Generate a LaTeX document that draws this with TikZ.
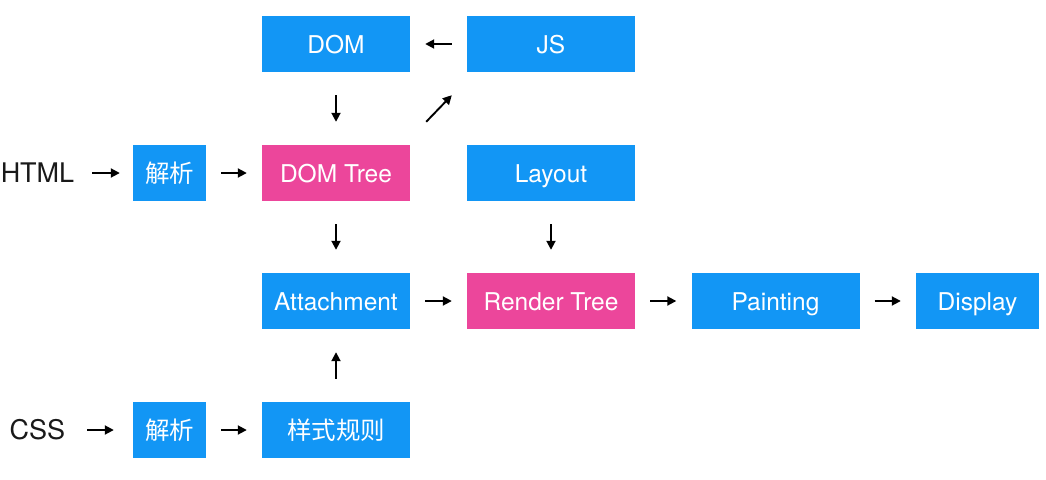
\documentclass[tikz,border=0pt]{standalone}
\usepackage{fontspec}
\setmainfont{TeX Gyre Heros}
\newfontfamily\cjk{Noto Sans CJK SC}
\usetikzlibrary{arrows.meta}
\definecolor{boxblue}{RGB}{18,150,245}
\definecolor{boxpink}{RGB}{236,70,155}
\definecolor{labelink}{RGB}{25,25,25}
\tikzset{
  box/.style={rectangle, fill=boxblue, text=white, inner sep=0pt, minimum height=56pt,
    text height=20pt, text depth=2pt, font=\fontsize{24.5}{28}\selectfont},
  pinkbox/.style={box, fill=boxpink},
  wide/.style={minimum width=148pt},
  wider/.style={minimum width=168pt},
  narrow/.style={minimum width=73pt},
  lbl/.style={inner sep=0pt, text=labelink, text height=20pt, text depth=2pt, font=\fontsize{27}{30}\selectfont},
  arr/.style={-{Triangle[length=9pt,width=9pt]}, line width=1.9pt, black},
  harr/.style={arr, shorten <=15pt, shorten >=15pt},
  varr/.style={arr, shorten <=23pt, shorten >=23pt},
}
\begin{document}
\begin{tikzpicture}[x=1pt,y=-1pt]
\useasboundingbox (0,0) rectangle (1046,479);
\fill[white] (0,0) rectangle (1046,479);
% row 1
\node[box,wide] (dom) at (336,44) {DOM};
\node[box,wider] (js) at (551,44) {JS};
% row 2
\node[lbl] (html) at (37.5,173) {HTML};
\node[box,narrow] (p1) at (169.5,173) {\cjk 解析};
\node[pinkbox,wide] (dt) at (336,173) {DOM Tree};
\node[box,wider] (lay) at (551,173) {Layout};
% row 3
\node[box,wide] (att) at (336,301) {Attachment};
\node[pinkbox,wider] (rt) at (551,301) {Render Tree};
\node[box,wider] (pt) at (775.5,301) {Painting};
\node[box,minimum width=123pt] (dis) at (977.5,301) {Display};
% row 4
\node[lbl] (css) at (37.5,430) {CSS};
\node[box,narrow] (p2) at (169.5,430) {\cjk 解析};
\node[box,wide] (sty) at (336,430) {\cjk 样式规则};
% arrows
\draw[harr] (js) -- (dom);
\draw[varr] (dom) -- (dt);
\draw[arr] ([shift={(16,-23)}]dt.north east) -- ([shift={(-15,23)}]js.south west);
\draw[arr, shorten <=18pt, shorten >=13pt] (html) -- (p1);
\draw[harr] (p1) -- (dt);
\draw[varr] (dt) -- (att);
\draw[varr] (lay) -- (rt);
\draw[harr] (att) -- (rt);
\draw[harr] (rt) -- (pt);
\draw[harr] (pt) -- (dis);
\draw[arr, shorten <=22pt, shorten >=19pt] (css) -- (p2);
\draw[harr] (p2) -- (sty);
\draw[varr] (sty) -- (att);
\end{tikzpicture}
\end{document}
